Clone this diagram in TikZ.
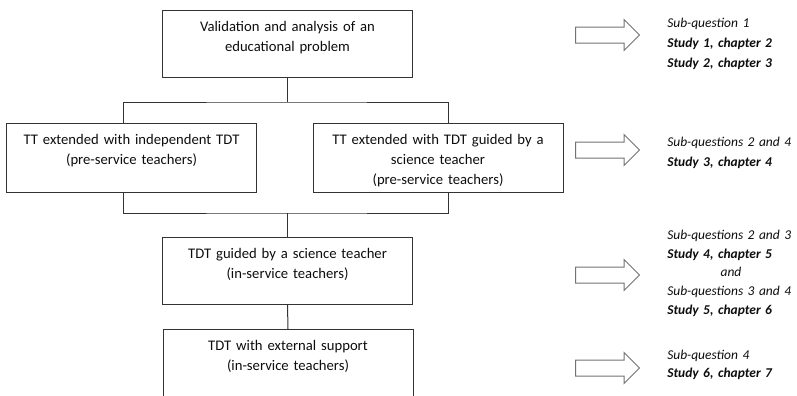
\documentclass[tikz,border=0pt]{standalone}
\usepackage{fontspec}
\setmainfont{Carlito}
\usetikzlibrary{shapes.arrows}
\colorlet{Linecol}{black!80}
\colorlet{Arrowcol}{black!55}
\colorlet{Textcol}{black!95}
\def\boxw{187.5pt}

\begin{document}
\begin{tikzpicture}[x=0.75pt, y=-0.75pt,
  stagebox/.style={draw=Linecol, line width=0.75pt, anchor=north, inner sep=0pt,
    text width=\boxw, align=center, text height=16pt, text depth=34.25pt,
    font=\fontsize{11}{15}\selectfont, text=Textcol},
  link/.style={draw=Linecol, line width=0.75pt},
  blockarrow/.style={single arrow, draw=Arrowcol, line width=0.75pt, fill=white,
    anchor=tail, inner xsep=0pt, inner ysep=5.625pt, minimum height=48pt,
    single arrow head extend=5.625pt, single arrow head indent=0pt},
  notes/.style={anchor=base west, text width=110pt, align=left, inner sep=0pt,
    text=Textcol, font=\fontsize{10.1}{15}\selectfont}]
  \useasboundingbox (0,0) rectangle (797,396);
  \clip (0,0) rectangle (797,396);

  \node[stagebox] (valid) at (287.5,10) {Validation and analysis of an\\educational problem};
  \node[stagebox, text depth=35.75pt] (ttind) at (131.5,123) {TT extended with independent TDT\\(pre-service teachers)};
  \node[stagebox, text depth=35.75pt] (ttgui) at (438,123) {TT extended with TDT guided by a\\science teacher\\(pre-service teachers)};
  \node[stagebox] (tdtgui) at (287.5,237) {TDT guided by a science teacher\\(in-service teachers)};
  \node[stagebox, text depth=37pt] (tdtext) at (288,329) {TDT with external support\\(in-service teachers)};

  \coordinate (upsplit) at (287.5,102);
  \coordinate (lowjoin) at (287.5,213);
  \draw[link] (valid.south) -- (upsplit);
  \draw[link] ([xshift=-6.375pt]ttind.north) |- (upsplit) -| ([xshift=7.5pt]ttgui.north);
  \draw[link] ([xshift=-6.375pt]ttind.south) |- (lowjoin) -| ([xshift=7.5pt]ttgui.south);
  \draw[link] (lowjoin) -- (tdtgui.north);
  \draw[link] (tdtgui.south) -- (tdtext.north);

  \node[blockarrow] (arr1) at (575,35) {};
  \node[blockarrow] (arr2) at (575,150) {};
  \node[blockarrow] (arr3) at (575,275) {};
  \node[blockarrow] (arr4) at (575,368) {};

  \node[notes] (sq1) at (667,27.5) {\textit{Sub-question 1}\\\textbf{\textit{Study 1, chapter 2}}\\\textbf{\textit{Study 2, chapter 3}}};
  \node[notes] (sq2) at (667,146.5) {\textit{Sub-questions 2 and 4}\\\textbf{\textit{Study 3, chapter 4}}};
  \node[notes, font=\fontsize{10.1}{14}\selectfont] (sq3) at (667,239.5) {\textit{Sub-questions 2 and 3}\\\textbf{\textit{Study 4, chapter 5}}\\\hspace*{40pt}\textit{and}\\\textit{Sub-questions 3 and 4}\\\textbf{\textit{Study 5, chapter 6}}};
  \node[notes, font=\fontsize{10.1}{13.5}\selectfont] (sq4) at (667,359.5) {\textit{Sub-question 4}\\\textbf{\textit{Study 6, chapter 7}}};
\end{tikzpicture}
\end{document}
